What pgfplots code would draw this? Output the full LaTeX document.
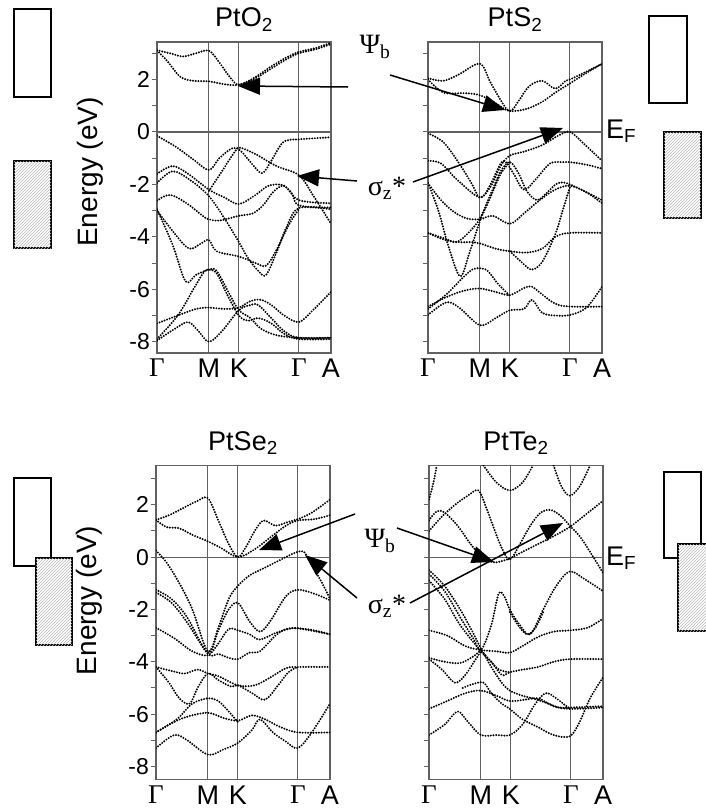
\documentclass[border=0pt]{standalone}
\usepackage{fontspec}
\setmainfont{Liberation Sans}
\newfontfamily\serif{Liberation Serif}
\usepackage{pgfplots}
\pgfplotsset{compat=1.18}
\usetikzlibrary{patterns,arrows.meta}
\definecolor{frame}{gray}{0.38}
\pgfplotsset{
 bandax/.style={scale only axis, width=174pt, xmin=0, xmax=3.35,
   xtick={0,1,1.577,2.732,3.35}, xticklabels={{\serif Γ},M,K,{\serif Γ},A},
   ytick={-8,...,3}, ytick pos=left,
   major tick length=5pt, tick align=outside,
   axis line style={frame, line width=1.3pt},
   ytick style={frame, line width=1pt},
   xtick style={draw=none},
   xmajorgrids, grid style={frame, line width=1.1pt},
   extra y ticks={0}, extra y tick labels={}, extra y tick style={grid=major, major tick length=0pt},
   xticklabel style={font=\fontsize{27}{29}\selectfont, inner sep=1pt},
   yticklabel style={font=\fontsize{23}{25}\selectfont, inner sep=2pt},
   title style={font=\fontsize{27}{29}\selectfont, yshift=1pt},
 },
 band/.style={black, line width=2.2pt, dash pattern=on 0pt off 2.7pt, line cap=round, smooth, tension=0.55, mark=none},
}
\begin{document}
\begin{tikzpicture}[x=1pt,y=1pt]
\useasboundingbox (0,0) rectangle (706,-809);
% ---------------- PtO2 ----------------
\begin{axis}[bandax, at={(157pt,-353pt)}, anchor=south west, height=311pt,
  ymin=-8.43, ymax=3.43, title={PtO\textsubscript{2}},
  yticklabels={-8,,-6,,-4,,-2,,0,,2,},
  ylabel={Energy (eV)}, ylabel style={font=\fontsize{28}{30}\selectfont, at={(axis description cs:-0.385,0.582)}, anchor=center}]
\addplot[band] coordinates {(0,3.12)(0.25,3.0)(0.5,2.88)(0.75,3.0)(1,3.1)(1.2,2.65)(1.4,2.1)(1.577,1.8)(1.9,2.1)(2.2,2.5)(2.5,2.85)(2.732,3.05)(3.05,3.2)(3.35,3.4)};
\addplot[band] coordinates {(0,3.1)(0.2,2.7)(0.45,2.1)(0.7,1.95)(1,1.93)(1.3,1.82)(1.577,1.8)(1.9,2.05)(2.2,2.42)(2.5,2.78)(2.732,3.0)(3.05,3.15)(3.35,3.35)};
\addplot[band] coordinates {(0,-0.15)(0.35,-0.55)(0.7,-1.05)(1,-1.45)(1.2,-1.0)(1.45,-0.62)(1.6,-0.7)(1.8,-1.15)(2.02,-1.57)(2.2,-1.1)(2.4,-0.45)(2.55,-0.3)(2.732,-0.28)(3.35,-0.2)};
\addplot[band] coordinates {(1,-2.25)(1.25,-1.5)(1.5,-0.75)(1.6,-0.6)(1.9,-0.85)(2.3,-1.3)(2.732,-1.65)(3.0,-2.4)(3.35,-3.5)};
\addplot[band] coordinates {(0,-1.6)(0.3,-1.3)(0.6,-1.6)(1,-2.2)(1.3,-2.5)(1.577,-2.75)(1.9,-2.4)(2.15,-2.05)(2.45,-2.05)(2.732,-2.6)(3.35,-2.72)};
\addplot[band] coordinates {(0,-1.95)(0.3,-1.5)(0.65,-1.85)(1,-2.45)(1.3,-3.3)(1.577,-4.2)(1.75,-4.8)(1.95,-5.3)(2.1,-5.45)(2.3,-4.6)(2.5,-3.6)(2.732,-2.9)(3.35,-2.95)};
\addplot[band] coordinates {(0,-2.62)(0.25,-2.4)(0.57,-2.72)(0.9,-3.23)(1,-3.33)(1.2,-3.38)(1.577,-3.2)(1.85,-3.1)(2.05,-2.78)(2.24,-2.28)(2.43,-2.05)(2.6,-2.35)(2.732,-2.8)(3.35,-2.88)};
\addplot[band] coordinates {(0,-2.95)(0.3,-4.3)(0.55,-5.7)(0.75,-5.45)(1,-5.25)(1.15,-5.3)(1.4,-6.2)(1.577,-6.8)(1.8,-7.1)(2.0,-7.5)(2.3,-7.75)(2.732,-7.85)(3.35,-7.85)};
\addplot[band] coordinates {(0,-3.0)(0.35,-3.9)(0.62,-4.45)(0.85,-4.25)(1,-4.12)(1.15,-4.55)(1.577,-4.75)(1.9,-5.0)(2.1,-5.1)(2.3,-4.5)(2.55,-3.5)(2.732,-2.95)};
\addplot[band] coordinates {(0,-7.3)(0.4,-7.0)(0.75,-6.75)(1,-6.7)(1.3,-6.75)(1.577,-6.7)(1.8,-6.45)(2.0,-6.4)(2.2,-6.6)(2.45,-7.0)(2.732,-7.25)(3.0,-6.8)(3.35,-6.1)};
\addplot[band] coordinates {(0,-7.95)(0.35,-7.5)(0.6,-7.25)(0.8,-7.6)(1,-8.0)(1.25,-7.6)(1.577,-6.8)(1.8,-6.6)(1.95,-6.6)(2.2,-7.1)(2.45,-7.6)(2.732,-7.85)(3.35,-7.85)};
\addplot[band] coordinates {(0,-7.9)(0.4,-7.0)(0.7,-6.0)(0.9,-5.35)(1,-5.25)(1.15,-5.4)(1.35,-6.2)(1.577,-7.0)(1.75,-7.2)(1.95,-7.1)(2.2,-7.3)(2.45,-7.7)(2.732,-7.9)(3.35,-7.9)};
\end{axis}
% ---------------- PtS2 ----------------
\begin{axis}[bandax, at={(428pt,-353pt)}, anchor=south west, height=311pt,
  ymin=-8.43, ymax=3.43, title={PtS\textsubscript{2}}, yticklabels={}]
\addplot[band] coordinates {(0,2.05)(0.3,1.95)(0.6,2.2)(1,2.6)(1.2,1.9)(1.45,1.05)(1.577,0.8)(1.9,0.88)(2.2,1.15)(2.45,1.5)(2.732,1.85)(3.05,2.25)(3.35,2.6)};
\addplot[band] coordinates {(0,2.0)(0.3,1.5)(0.7,1.48)(1,1.4)(1.3,1.1)(1.577,0.8)(1.75,1.2)(1.95,1.75)(2.2,1.95)(2.45,1.65)(2.65,1.95)(2.732,2.0)(3.05,2.3)(3.35,2.6)};
\addplot[band] coordinates {(0,-0.05)(0.3,-0.4)(0.6,-1.2)(0.85,-2.0)(1,-2.5)(1.2,-2.1)(1.4,-1.3)(1.577,-0.9)(1.85,-0.75)(2.2,-0.5)(2.5,-0.15)(2.732,0.0)(3.0,-0.45)(3.35,-1.1)};
\addplot[band] coordinates {(0,-1.1)(0.25,-1.2)(0.55,-1.8)(1,-2.5)(1.2,-2.0)(1.4,-1.2)(1.5,-1.15)(1.65,-1.6)(1.85,-2.2)(2.1,-1.75)(2.35,-1.2)(2.6,-1.15)(2.732,-1.15)(3.05,-1.25)(3.35,-1.4)};
\addplot[band] coordinates {(0,-1.95)(0.25,-2.6)(0.5,-3.05)(0.75,-3.3)(1,-3.33)(1.25,-3.2)(1.577,-3.5)(1.85,-3.1)(2.15,-2.6)(2.45,-2.2)(2.732,-2.05)(3.05,-2.3)(3.35,-2.72)};
\addplot[band] coordinates {(0,-3.85)(0.3,-4.05)(0.55,-4.2)(0.8,-3.8)(1,-3.3)(1.2,-2.4)(1.4,-1.5)(1.577,-1.15)(1.75,-1.6)(1.9,-2.25)(2.1,-2.6)(2.3,-2.3)(2.5,-1.95)(2.732,-2.0)(3.35,-2.6)};
\addplot[band] coordinates {(0,-3.85)(0.3,-4.1)(0.6,-4.2)(0.85,-4.2)(1,-4.25)(1.3,-4.45)(1.577,-4.55)(1.9,-4.6)(2.2,-4.45)(2.45,-4.0)(2.732,-3.85)(3.35,-3.85)};
\addplot[band] coordinates {(1.577,-4.55)(1.82,-5.0)(2.0,-5.25)(2.2,-4.95)(2.45,-3.9)(2.6,-2.95)(2.732,-2.1)};
\addplot[band] coordinates {(0,-1.95)(0.2,-3.0)(0.4,-4.4)(0.62,-5.5)(0.8,-4.6)(1,-3.4)(1.2,-2.5)(1.4,-1.6)(1.577,-1.15)};
\addplot[band] coordinates {(0,-6.66)(0.35,-6.3)(0.7,-6.05)(1,-5.97)(1.3,-6.1)(1.577,-6.22)(1.85,-5.95)(2.0,-5.9)(2.2,-6.2)(2.45,-6.55)(2.732,-6.66)(3.35,-6.66)};
\addplot[band] coordinates {(0,-6.98)(0.35,-6.5)(0.6,-6.7)(1,-7.37)(1.3,-7.1)(1.577,-6.8)(1.85,-6.75)(2.0,-6.4)(2.2,-6.9)(2.45,-7.0)(2.732,-6.98)(3.05,-6.7)(3.35,-5.9)};
\addplot[band] coordinates {(0,-6.75)(0.35,-6.2)(0.65,-5.6)(0.85,-5.25)(1,-5.2)(1.15,-5.3)(1.35,-5.8)(1.577,-6.25)};
\end{axis}
% ---------------- PtSe2 ----------------
\begin{axis}[bandax, at={(156pt,-779.5pt)}, anchor=south west, height=314pt,
  ymin=-8.5, ymax=3.5, title={PtSe\textsubscript{2}},
  yticklabels={-8,,-6,,-4,,-2,,0,,2,},
  ylabel={Energy (eV)}, ylabel style={font=\fontsize{28}{30}\selectfont, at={(axis description cs:-0.385,0.57)}, anchor=center}]
\addplot[band] coordinates {(0,1.42)(0.25,1.6)(0.5,1.85)(0.8,2.15)(1,2.25)(1.2,1.4)(1.4,0.5)(1.577,0.0)(1.75,0.45)(1.9,1.0)(2.07,1.4)(2.3,1.2)(2.55,1.35)(2.732,1.45)(3.0,1.7)(3.35,2.2)};
\addplot[band] coordinates {(0,1.42)(0.2,1.15)(0.45,1.1)(0.7,0.85)(1,0.6)(1.25,0.35)(1.577,0.0)(1.9,0.3)(2.2,0.75)(2.5,1.2)(2.732,1.4)(3.05,1.45)(3.35,1.6)};
\addplot[band] coordinates {(0,0.25)(0.2,-0.2)(0.45,-1.0)(0.7,-2.0)(1,-3.6)(1.2,-2.7)(1.4,-1.6)(1.577,-1.1)(1.8,-0.7)(2.05,-0.45)(2.35,-0.15)(2.6,0.1)(2.732,0.2)(2.85,0.2)(3.0,-0.3)(3.2,-1.0)(3.35,-1.6)};
\addplot[band] coordinates {(0,-1.25)(0.3,-1.6)(0.6,-2.3)(1,-3.65)(1.2,-2.8)(1.4,-2.0)(1.577,-1.75)(1.8,-2.45)(2.0,-2.85)(2.2,-2.45)(2.5,-1.5)(2.732,-1.25)(3.05,-1.4)(3.35,-1.65)};
\addplot[band] coordinates {(0,-1.35)(0.3,-1.75)(0.6,-2.5)(1,-3.7)(1.2,-3.7)(1.4,-3.85)(1.577,-3.9)(1.8,-3.65)(2.0,-3.6)(2.3,-3.0)(2.5,-2.75)(2.732,-2.72)(3.05,-2.8)(3.35,-2.95)};
\addplot[band] coordinates {(0,-2.7)(0.35,-3.1)(0.7,-3.6)(1,-3.75)(1.2,-3.3)(1.4,-2.75)(1.577,-2.8)(1.8,-2.95)(2.0,-3.15)(2.3,-2.9)(2.55,-2.75)(2.732,-2.72)(3.35,-2.95)};
\addplot[band] coordinates {(0,-4.2)(0.3,-4.35)(0.55,-4.45)(0.8,-4.3)(1,-4.45)(1.2,-4.55)(1.577,-4.9)(1.9,-4.9)(2.2,-4.6)(2.5,-4.25)(2.732,-4.2)(3.35,-4.2)};
\addplot[band] coordinates {(0,-4.2)(0.25,-4.8)(0.45,-5.4)(0.65,-5.6)(0.8,-5.0)(1,-4.45)(1.2,-4.7)(1.45,-4.95)(1.577,-4.9)(1.85,-5.2)(2.1,-5.45)(2.35,-4.9)(2.55,-4.4)(2.732,-4.2)};
\addplot[band] coordinates {(0,-6.7)(0.3,-6.35)(0.6,-6.1)(1,-5.95)(1.3,-6.15)(1.577,-6.25)(1.85,-6.05)(2.1,-6.2)(2.4,-6.5)(2.732,-6.7)(3.35,-6.7)};
\addplot[band] coordinates {(0,-7.3)(0.35,-6.8)(0.6,-7.0)(1,-7.55)(1.3,-7.35)(1.577,-7.1)(1.85,-6.6)(2.0,-6.2)(2.25,-6.7)(2.5,-7.05)(2.732,-7.3)(3.0,-6.7)(3.35,-5.6)};
\addplot[band] coordinates {(0,-6.7)(0.4,-6.2)(0.7,-5.6)(1,-5.4)(1.2,-5.5)(1.4,-5.9)(1.577,-6.3)};
\end{axis}
% ---------------- PtTe2 ----------------
\begin{axis}[bandax, at={(429pt,-779.5pt)}, anchor=south west, height=314pt,
  ymin=-8.5, ymax=3.5, title={PtTe\textsubscript{2}}, yticklabels={}]
\addplot[band] coordinates {(0,1.0)(0.25,1.55)(0.5,2.0)(0.75,2.35)(0.95,2.55)(1.1,1.9)(1.25,1.1)(1.4,0.35)(1.555,-0.1)(1.75,0.5)(1.95,1.2)(2.15,1.7)(2.35,1.8)(2.55,1.55)(2.71,1.2)(2.9,0.8)(3.1,0.2)(3.35,-0.6)};
\addplot[band] coordinates {(0,1.4)(0.15,1.75)(0.3,1.7)(0.55,1.2)(0.8,0.5)(1,0.05)(1.15,-0.15)(1.3,-0.2)(1.555,-0.05)(1.8,0.2)(2.1,0.5)(2.4,0.8)(2.71,1.15)(3.0,1.6)(3.35,2.15)};
\addplot[band] coordinates {(1.05,3.5)(1.3,2.85)(1.555,2.55)(1.8,2.85)(2.0,3.5)};
\addplot[band] coordinates {(2.4,3.5)(2.55,2.7)(2.71,2.35)(2.9,2.7)(3.1,3.5)};
\addplot[band] coordinates {(0,2.2)(0.08,2.8)(0.15,3.5)};
\addplot[band] coordinates {(0,-0.5)(0.3,-1.1)(0.6,-2.0)(0.85,-2.9)(1,-3.5)(1.2,-4.2)(1.4,-4.8)(1.555,-5.1)(1.8,-5.3)(2.0,-5.4)(2.3,-5.6)(2.5,-5.75)(2.71,-5.75)(3.35,-5.7)};
\addplot[band] coordinates {(0,-0.65)(0.3,-1.3)(0.6,-2.3)(0.85,-3.1)(1,-3.55)(1.2,-2.6)(1.34,-1.4)(1.45,-1.5)(1.555,-2.0)(1.75,-2.6)(1.95,-2.95)(2.2,-2.0)(2.45,-1.1)(2.71,-0.55)(3.0,-0.85)(3.35,-1.3)};
\addplot[band] coordinates {(0,-0.9)(0.3,-1.6)(0.6,-2.6)(1,-3.6)(1.2,-4.0)(1.4,-4.5)(1.555,-4.4)(1.8,-4.3)(2.1,-4.2)(2.4,-4.0)(2.71,-3.9)(3.35,-3.9)};
\addplot[band] coordinates {(0,-2.8)(0.35,-3.0)(0.7,-3.4)(1,-3.55)(1.3,-3.6)(1.555,-3.65)(1.8,-3.4)(2.1,-3.05)(2.4,-2.85)(2.71,-2.8)(3.05,-2.7)(3.35,-2.35)};
\addplot[band] coordinates {(0,-3.85)(0.3,-4.0)(0.6,-4.05)(0.85,-3.8)(1,-3.6)(1.15,-3.9)(1.35,-4.3)(1.555,-4.4)};
\addplot[band] coordinates {(0,-3.9)(0.25,-4.3)(0.5,-4.8)(0.7,-4.5)(0.9,-3.9)(1,-3.6)};
\addplot[band] coordinates {(0,-5.8)(0.35,-5.5)(0.7,-5.2)(1,-5.1)(1.3,-5.3)(1.555,-5.5)(1.85,-5.45)(2.1,-5.4)(2.4,-5.7)(2.71,-5.8)(3.35,-5.75)};
\addplot[band] coordinates {(0.65,-5.0)(0.85,-4.85)(1.05,-4.8)(1.2,-5.2)(1.4,-5.6)(1.555,-5.8)(1.8,-6.2)(2.1,-6.5)(2.4,-6.8)(2.71,-6.85)(2.9,-6.3)(3.1,-5.4)(3.35,-4.6)};
\addplot[band] coordinates {(0,-6.8)(0.3,-6.4)(0.55,-5.9)(0.75,-6.3)(1,-6.8)(1.3,-6.8)(1.555,-6.8)(1.8,-6.4)(2.05,-5.6)(2.25,-5.2)(2.45,-5.4)(2.71,-5.8)};
\addplot[band] coordinates {(1.555,-2.1)(1.75,-2.7)(1.9,-2.95)(2.05,-2.7)(2.2,-2.1)};
\end{axis}
% ---------------- rectangles ----------------
\tikzset{box/.style={line width=1.5pt, black}, hbox/.style={line width=1.5pt, black, fill=white, postaction={pattern=north east lines, pattern color=gray!55}}}
\draw[box] (14,-9) rectangle (51,-97);
\draw[hbox] (14,-161) rectangle (51,-248);
\draw[box] (649,-16) rectangle (687,-103);
\draw[hbox] (664,-132) rectangle (701,-218);
\draw[box] (14,-478) rectangle (51,-566);
\draw[hbox] (36,-558) rectangle (72,-645);
\draw[box] (664,-472) rectangle (701,-558);
\draw[hbox] (678,-544) rectangle (716,-631);
% ---------------- labels and arrows ----------------
\tikzset{arr/.style={line width=1.5pt, -{Triangle[length=22pt,width=17pt]}}}
\node[font=\fontsize{28}{30}\selectfont\serif] at (375,-47) {Ψ\textsubscript{b}};
\node[font=\fontsize{28}{30}\selectfont\serif] at (387,-188) {σ\textsubscript{z}*};
\node[font=\fontsize{28}{30}\selectfont\serif] at (380,-541) {Ψ\textsubscript{b}};
\node[font=\fontsize{28}{30}\selectfont\serif] at (387,-606) {σ\textsubscript{z}*};
\node[font=\fontsize{27}{29}\selectfont, anchor=west, inner sep=0pt] at (606,-131) {E\textsubscript{F}};
\node[font=\fontsize{27}{29}\selectfont, anchor=west, inner sep=0pt] at (606,-558) {E\textsubscript{F}};
\draw[arr] (348,-87) -- (238,-86);
\draw[arr] (390,-75) -- (505,-110);
\draw[arr] (357,-181) -- (297,-176);
\draw[arr] (413,-182) -- (563,-128);
\draw[arr] (355,-514) -- (259,-550);
\draw[arr] (397,-528) -- (494,-562);
\draw[arr] (357,-598) -- (305,-555);
\draw[arr] (410,-603) -- (563,-523);
\end{tikzpicture}
\end{document}
